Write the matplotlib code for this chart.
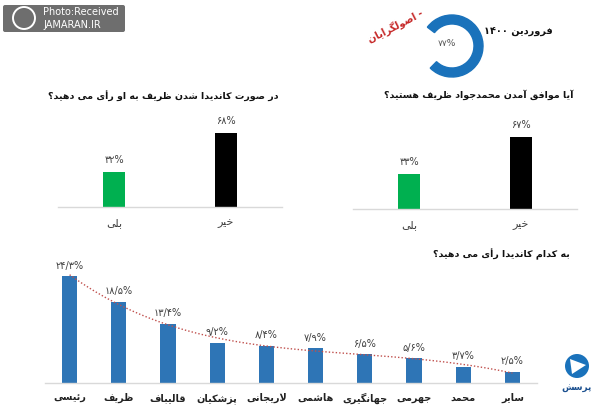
import re
import numpy as np
import matplotlib
matplotlib.use("Agg")
import matplotlib.pyplot as plt
from matplotlib.patches import Wedge, FancyBboxPatch, Circle, Polygon

# ---- data ----
q1_title = "آیا موافق آمدن محمدجواد ظریف هستید؟"
q1_labels = ["بلی", "خیر"]
q1_values = [33, 67]

q2_title = "در صورت کاندیدا شدن ظریف به او رأی می دهید؟"
q2_labels = ["بلی", "خیر"]
q2_values = [32, 68]

q3_title = "به کدام کاندیدا رأی می دهید؟"
candidates = ["رئیسی", "ظریف", "قالیباف", "پزشکیان", "لاریجانی",
              "هاشمی", "جهانگیری", "جهرمی", "محمد", "سایر"]
cand_values = [24.3, 18.5, 13.4, 9.2, 8.4, 7.9, 6.5, 5.6, 3.7, 2.5]

header = "فروردین ۱۴۰۰"
donut_label = "اصولگرایان"
donut_value = 77

# ---- simple persian shaping (no reshaper lib in the sandbox) ----
# isolated, final, initial, medial
FORMS = {
    'ا': ('\uFE8D', '\uFE8E', None, None),
    'آ': ('\uFE81', '\uFE82', None, None),
    'أ': ('\uFE83', '\uFE84', None, None),
    'د': ('\uFEA9', '\uFEAA', None, None),
    'ر': ('\uFEAD', '\uFEAE', None, None),
    'ز': ('\uFEAF', '\uFEB0', None, None),
    'ژ': ('\uFB8A', '\uFB8B', None, None),
    'و': ('\uFEED', '\uFEEE', None, None),
    'ئ': ('\uFE89', '\uFE8A', '\uFE8B', '\uFE8C'),
    'ب': ('\uFE8F', '\uFE90', '\uFE91', '\uFE92'),
    'پ': ('\uFB56', '\uFB57', '\uFB58', '\uFB59'),
    'ت': ('\uFE95', '\uFE96', '\uFE97', '\uFE98'),
    'ج': ('\uFE9D', '\uFE9E', '\uFE9F', '\uFEA0'),
    'ح': ('\uFEA1', '\uFEA2', '\uFEA3', '\uFEA4'),
    'خ': ('\uFEA5', '\uFEA6', '\uFEA7', '\uFEA8'),
    'س': ('\uFEB1', '\uFEB2', '\uFEB3', '\uFEB4'),
    'ش': ('\uFEB5', '\uFEB6', '\uFEB7', '\uFEB8'),
    'ص': ('\uFEB9', '\uFEBA', '\uFEBB', '\uFEBC'),
    'ظ': ('\uFEC5', '\uFEC6', '\uFEC7', '\uFEC8'),
    'ف': ('\uFED1', '\uFED2', '\uFED3', '\uFED4'),
    'ق': ('\uFED5', '\uFED6', '\uFED7', '\uFED8'),
    'ک': ('\uFB8E', '\uFB8F', '\uFB90', '\uFB91'),
    'گ': ('\uFB92', '\uFB93', '\uFB94', '\uFB95'),
    'ل': ('\uFEDD', '\uFEDE', '\uFEDF', '\uFEE0'),
    'م': ('\uFEE1', '\uFEE2', '\uFEE3', '\uFEE4'),
    'ن': ('\uFEE5', '\uFEE6', '\uFEE7', '\uFEE8'),
    'ه': ('\uFEE9', '\uFEEA', '\uFEEB', '\uFEEC'),
    'ی': ('\uFBFC', '\uFBFD', '\uFBFE', '\uFBFF'),
}


def dual(c):
    return c in FORMS and FORMS[c][2] is not None


def fa(s):
    out = []
    i = 0
    while i < len(s):
        c = s[i]
        prev = s[i - 1] if i > 0 else ''
        nxt = s[i + 1] if i + 1 < len(s) else ''
        if c not in FORMS:
            out.append(c)
            i += 1
            continue
        jp = dual(prev)
        if c == 'ل' and nxt == 'ا':
            out.append('\uFEFC' if jp else '\uFEFB')
            i += 2
            continue
        jn = dual(c) and nxt in FORMS
        f = FORMS[c]
        if jp and jn:
            out.append(f[3])
        elif jp:
            out.append(f[1])
        elif jn:
            out.append(f[2])
        else:
            out.append(f[0])
        i += 1
    vis = ''.join(out)[::-1]
    # digits keep left-to-right order
    return re.sub('[\u06F0-\u06F9]+', lambda m: m.group(0)[::-1], vis)


def fa_num(v):
    s = ('%g' % v).replace('.', '/')
    return s.translate(str.maketrans('0123456789', '۰۱۲۳۴۵۶۷۸۹')) + '%'


plt.rcParams['font.family'] = ['DejaVu Sans']

W, H = 600, 415
fig = plt.figure(figsize=(6, 4.15), dpi=100)
fig.patch.set_facecolor('white')


def px_axes(x0, y0, x1, y1):
    return fig.add_axes([x0 / W, 1 - y1 / H, (x1 - x0) / W, (y1 - y0) / H])


def style(ax):
    for s in ['top', 'right', 'left']:
        ax.spines[s].set_visible(False)
    ax.spines['bottom'].set_color('#d9d9d9')
    ax.spines['bottom'].set_linewidth(1)
    ax.set_yticks([])
    ax.tick_params(axis='x', length=0)
    ax.patch.set_alpha(0)


# ---- top charts ----
for box, labels, values in [((58, 120, 282, 207), q2_labels, q2_values),
                            ((353, 123, 577, 209), q1_labels, q1_values)]:
    ax = px_axes(*box)
    x = np.arange(len(values))
    ax.bar(x, values, width=0.205, color=['#00b050', '#000000'])
    ax.set_xlim(-0.5, 1.5)
    ax.set_ylim(0, 80)
    style(ax)
    ax.set_xticks(x)
    ax.set_xticklabels([fa(l) for l in labels], fontsize=8, color='#404040')
    ax.tick_params(axis='x', pad=8)
    for xi, v in zip(x, values):
        ax.annotate(fa_num(v), (xi, v), xytext=(0, 5), textcoords='offset points',
                    ha='center', va='bottom', fontsize=7, color='#404040')

# ---- bottom chart ----
ax3 = px_axes(45, 251, 537, 383)
x3 = np.arange(len(cand_values))
ax3.bar(x3, cand_values, width=0.31, color='#2e75b6')
ax3.set_xlim(-0.5, 9.5)
ax3.set_ylim(0, 30)
style(ax3)
ax3.set_xticks(x3)
ax3.set_xticklabels([fa(c) for c in candidates], fontsize=7, fontweight='bold',
                    color='#222222')
ax3.tick_params(axis='x', pad=7)
for xi, v in zip(x3, cand_values):
    ax3.annotate(fa_num(v), (xi, v), xytext=(0, 4), textcoords='offset points',
                 ha='center', va='bottom', fontsize=7, color='#404040')
coef = np.polyfit(x3, cand_values, 4)
xs = np.linspace(0, 9, 200)
ax3.plot(xs, np.polyval(coef, xs), linestyle=(0, (1, 1.5)), color='#c0504d', lw=1)

# ---- overlay for titles and decorations ----
ov = fig.add_axes([0, 0, 1, 1])
ov.set_xlim(0, W)
ov.set_ylim(H, 0)
ov.axis('off')
ov.patch.set_alpha(0)

ov.text(278, 96, fa(q2_title), ha='right', va='center', fontsize=6.8,
        fontweight='bold', color='#111111')
ov.text(573, 95, fa(q1_title), ha='right', va='center', fontsize=6.8,
        fontweight='bold', color='#111111')
ov.text(570, 254, fa(q3_title), ha='right', va='center', fontsize=6.8,
        fontweight='bold', color='#111111')

ov.text(553, 32, fa(header), ha='right', va='center', fontsize=7,
        fontweight='bold', color='#111111')

# donut
gap = 360 * (100 - donut_value) / 100
ov.add_patch(Wedge((452, 46), 31, 176 + gap / 2 - 360, 176 - gap / 2, width=9,
                   color='#1a72bb'))
ov.text(447, 44, fa_num(donut_value), ha='center', va='center', fontsize=6.5,
        color='#555555')
ov.text(395, 26, fa("- " + donut_label), ha='center', va='center', fontsize=7,
        fontweight='bold', color='#c62828', rotation=27)

# watermark
ov.add_patch(FancyBboxPatch((3, 5), 122, 27, boxstyle='round,pad=0,rounding_size=2',
                            facecolor='#6e6e6e', edgecolor='none'))
ov.add_patch(Circle((24, 18), 11, facecolor='none', edgecolor='white', lw=1.4))
ov.text(43, 12, "Photo:Received", color='white', fontsize=7, va='center')
ov.text(43, 25, "JAMARAN.IR", color='white', fontsize=7, va='center')

# logo
ov.add_patch(Circle((577, 366), 12, facecolor='#1a72bb', edgecolor='none'))
ov.add_patch(Polygon([(570, 359), (586, 365), (572, 374)], closed=True,
                     facecolor='white', edgecolor='none'))
ov.text(577, 388, fa("پرسش"), ha='center', va='center', fontsize=6.5,
        fontweight='bold', color='#1a4f8f')

fig.savefig('out.png', dpi=100)
